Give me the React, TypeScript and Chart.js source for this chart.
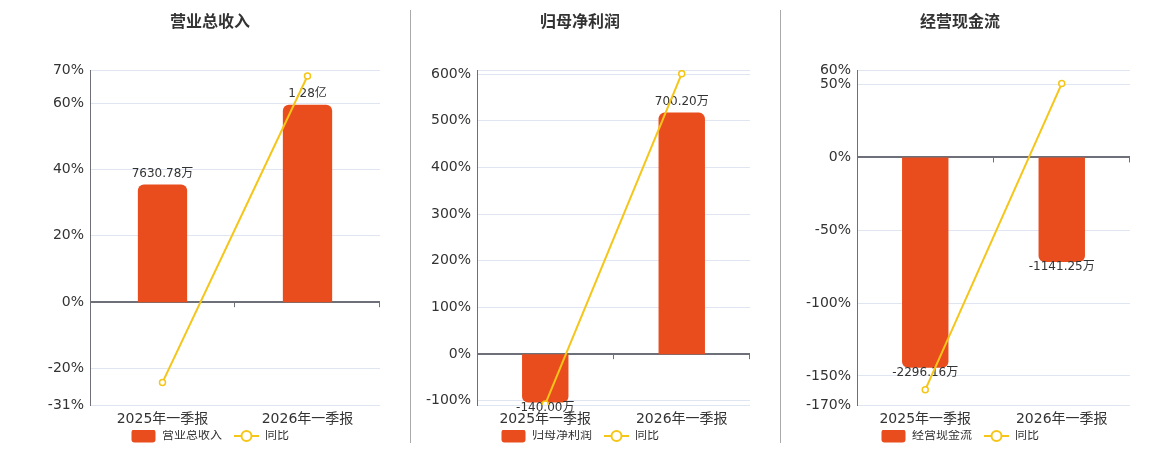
import React, { useRef, useEffect } from 'react';
import { Chart, registerables } from 'chart.js';

Chart.register(...registerables);
Chart.defaults.font.family = "'DejaVu Sans', 'Noto Sans CJK SC', sans-serif";

const categories = ['2025年一季报', '2026年一季报'];

// 营业总收入 (万元)
const revenueValues = [7630.78, 12800];
const revenueLabels = ['7630.78万', '1.28亿'];
const revenueYoy = [-24.2, 68.2];
const revenueTicks = [-31, -20, 0, 20, 40, 60, 70];

// 归母净利润 (万元)
const profitValues = [-140.0, 700.2];
const profitLabels = ['-140.00万', '700.20万'];
const profitYoy = [-107, 601];
const profitTicks = [-109, -100, 0, 100, 200, 300, 400, 500, 600, 609];

// 经营现金流 (万元)
const cashValues = [-2296.16, -1141.25];
const cashLabels = ['-2296.16万', '-1141.25万'];
const cashYoy = [-159.6, 50.7];
const cashTicks = [-170, -150, -100, -50, 0, 50, 60];

const BAR_COLOR = '#E94C1D';
const LINE_COLOR = '#F5C518';
const AXIS_COLOR = '#6E7079';
const GRID_COLOR = '#E0E6F1';
const TEXT_COLOR = '#333';

// legend markers: 12px of blank space on the left acts as the gap between items
const MARKER_GAP = 12;
const MARKER_W = 25;

const makeBarMarker = () => {
  const c = document.createElement('canvas');
  c.width = MARKER_GAP + MARKER_W;
  c.height = 14;
  const ctx = c.getContext('2d')!;
  ctx.fillStyle = BAR_COLOR;
  ctx.beginPath();
  ctx.roundRect(MARKER_GAP + 0.5, 0.5, 24, 13, 3);
  ctx.fill();
  return c;
};

const makeLineMarker = () => {
  const c = document.createElement('canvas');
  c.width = MARKER_GAP + MARKER_W;
  c.height = 14;
  const ctx = c.getContext('2d')!;
  ctx.strokeStyle = LINE_COLOR;
  ctx.lineWidth = 2;
  ctx.beginPath();
  ctx.moveTo(MARKER_GAP, 7);
  ctx.lineTo(MARKER_GAP + MARKER_W, 7);
  ctx.stroke();
  ctx.beginPath();
  ctx.arc(MARKER_GAP + 12.5, 7, 5, 0, Math.PI * 2);
  ctx.fillStyle = '#fff';
  ctx.fill();
  ctx.stroke();
  return c;
};

const barLabelPlugin = {
  id: 'barLabels',
  afterDatasetDraw(chart: any, args: any, opts: any) {
    if (args.index !== 0 || !opts.texts) return;
    const ctx = chart.ctx;
    ctx.save();
    ctx.font = "12px 'DejaVu Sans', 'Noto Sans CJK SC', sans-serif";
    ctx.fillStyle = TEXT_COLOR;
    ctx.textAlign = 'center';
    ctx.textBaseline = 'middle';
    args.meta.data.forEach((bar: any, i: number) => {
      const v = chart.data.datasets[0].data[i];
      const y = v >= 0 ? bar.y - 11 : bar.y + 5;
      ctx.fillText(opts.texts[i], bar.x, y);
    });
    ctx.restore();
  },
};

const zeroTickPlugin = {
  id: 'zeroTicks',
  afterDraw(chart: any) {
    const { left, right } = chart.chartArea;
    const y0 = chart.scales.y.getPixelForValue(0);
    const n = chart.data.labels.length;
    const ctx = chart.ctx;
    ctx.save();
    ctx.strokeStyle = AXIS_COLOR;
    ctx.lineWidth = 1;
    for (let i = 1; i <= n; i++) {
      const x = Math.round(left + (i * (right - left)) / n) - 0.5;
      ctx.beginPath();
      ctx.moveTo(x, y0);
      ctx.lineTo(x, y0 + 5);
      ctx.stroke();
    }
    ctx.restore();
  },
};

// pull the legend back by half the blank gap so the visible items stay centred
const legendShiftPlugin = {
  id: 'legendShift',
  afterLayout(chart: any) {
    if (chart.legend) {
      chart.legend.left -= MARKER_GAP / 2;
      chart.legend.right -= MARKER_GAP / 2;
    }
  },
};

const Panel = ({ title, values, texts, yoy, ticks, left, width, padRight, axisWidth, hideEnds }: any) => {
  const chartRef = useRef<any>(null);
  const canvasRef = useRef<any>(null);

  useEffect(() => {
    if (chartRef.current) {
      chartRef.current.destroy();
    }

    const yMin = ticks[0];
    const yMax = ticks[ticks.length - 1];
    // bar axis shares the zero of the percent axis
    const maxBar = Math.max(...values.map((v: number) => Math.abs(v)));
    const positive = values.some((v: number) => v === maxBar);
    const side = positive ? yMax : -yMin;
    const f = maxBar / (0.85 * side);

    const markers = [makeBarMarker(), makeLineMarker()];

    const ctx = canvasRef.current.getContext('2d');
    chartRef.current = new Chart(ctx, {
      type: 'bar',
      data: {
        labels: categories,
        datasets: [
          {
            type: 'bar',
            label: title,
            data: values,
            yAxisID: 'y2',
            backgroundColor: BAR_COLOR,
            borderRadius: 6,
            categoryPercentage: 0.34,
            barPercentage: 1,
            order: 1,
          },
          {
            type: 'line',
            label: '同比',
            data: yoy,
            yAxisID: 'y',
            borderColor: LINE_COLOR,
            borderWidth: 2,
            pointRadius: 3,
            pointBorderWidth: 1.5,
            pointBackgroundColor: '#fff',
            pointBorderColor: LINE_COLOR,
            order: 0,
          } as any,
        ],
      },
      plugins: [barLabelPlugin, zeroTickPlugin, legendShiftPlugin],
      options: {
        responsive: false,
        animation: false,
        layout: { padding: { left: 0, right: padRight, top: 0, bottom: 0 } },
        scales: {
          x: {
            offset: true,
            grid: { display: false, drawTicks: false },
            border: { display: false },
            ticks: { color: TEXT_COLOR, font: { size: 14 }, padding: 6 },
            afterFit: (s: any) => {
              s.height = 25;
            },
          },
          y: {
            position: 'left',
            min: yMin,
            max: yMax,
            afterBuildTicks: (s: any) => {
              s.ticks = ticks.map((v: number) => ({ value: v }));
            },
            afterFit: (s: any) => {
              s.width = axisWidth;
            },
            ticks: {
              autoSkip: false,
              color: TEXT_COLOR,
              font: { size: 14 },
              padding: 6,
              callback: (v: any) => {
                if (hideEnds && (v === yMin || v === yMax)) return '';
                return v + '%';
              },
            },
            grid: {
              drawTicks: false,
              color: (c: any) => (c.tick && c.tick.value === 0 ? AXIS_COLOR : GRID_COLOR),
              lineWidth: (c: any) => (c.tick && c.tick.value === 0 ? 2 : 1),
            },
            border: { display: true, color: AXIS_COLOR, width: 1 },
          },
          y2: {
            display: false,
            min: yMin * f,
            max: yMax * f,
          },
        },
        plugins: {
          title: {
            display: true,
            text: title,
            color: TEXT_COLOR,
            font: { size: 16, weight: 'bold' },
            padding: { top: 9, bottom: 37.8 },
          },
          legend: {
            position: 'bottom',
            labels: {
              color: TEXT_COLOR,
              font: { size: 12 },
              usePointStyle: true,
              pointStyleWidth: MARKER_GAP + MARKER_W,
              padding: 0,
              sort: (a: any, b: any) => a.datasetIndex - b.datasetIndex,
              generateLabels: (chart: any) => {
                const items = Chart.defaults.plugins.legend.labels.generateLabels(chart);
                return items.map((it: any) => ({
                  ...it,
                  pointStyle: markers[it.datasetIndex],
                }));
              },
            },
          },
          tooltip: { enabled: false },
          barLabels: { texts },
        } as any,
      },
    });

    return () => {
      chartRef.current.destroy();
      chartRef.current = null;
    };
  }, [title, values, texts, yoy, ticks]);

  return (
    <canvas
      ref={canvasRef}
      width={width}
      height={448}
      style={{ position: 'absolute', left, top: 4, width, height: 448 }}
    ></canvas>
  );
};

const Divider = ({ x }: any) => (
  <div style={{ position: 'absolute', left: x, top: 10, width: 1, height: 433, background: '#aaa' }} />
);

const App = () => {
  return (
    <div style={{ position: 'absolute', left: 0, top: 0, width: 1160, height: 450, background: '#fff', overflow: 'hidden' }}>
      <Panel
        title="营业总收入"
        values={revenueValues}
        texts={revenueLabels}
        yoy={revenueYoy}
        ticks={revenueTicks}
        left={40}
        width={360}
        padRight={20}
        axisWidth={50}
        hideEnds={false}
      />
      <Divider x={410} />
      <Panel
        title="归母净利润"
        values={profitValues}
        texts={profitLabels}
        yoy={profitYoy}
        ticks={profitTicks}
        left={410}
        width={350}
        padRight={10}
        axisWidth={67}
        hideEnds={true}
      />
      <Divider x={780} />
      <Panel
        title="经营现金流"
        values={cashValues}
        texts={cashLabels}
        yoy={cashYoy}
        ticks={cashTicks}
        left={790}
        width={360}
        padRight={20}
        axisWidth={67}
        hideEnds={false}
      />
    </div>
  );
};

export default App;
